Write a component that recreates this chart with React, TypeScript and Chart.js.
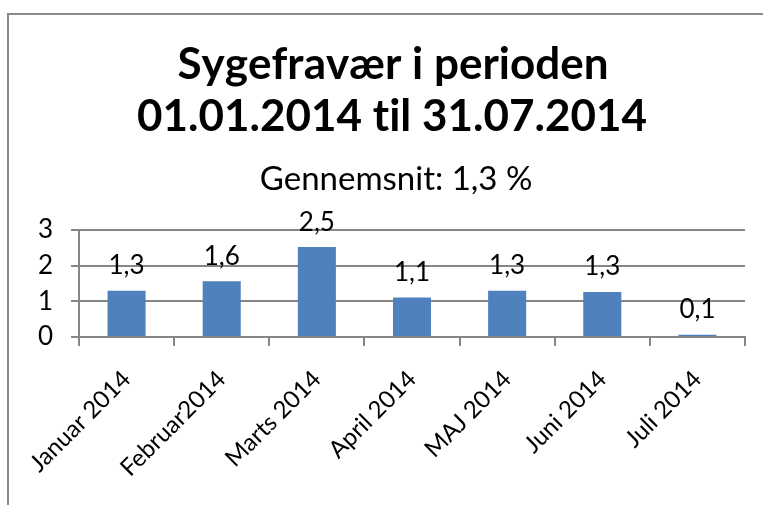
import { useEffect, useRef } from 'react';
import { Chart, registerables } from 'chart.js';

Chart.register(...registerables);

const titleLines = ['Sygefravær i perioden', '01.01.2014 til 31.07.2014'];
const subtitleText = 'Gennemsnit: 1,3 %';
const categories = ['Januar 2014', 'Februar2014', 'Marts 2014', 'April 2014', 'MAJ 2014', 'Juni 2014', 'Juli 2014'];
const values = [1.3, 1.56, 2.52, 1.11, 1.3, 1.26, 0.06];
const yMin = 0;
const yMax = 3;
const yStep = 1;

const FONT = 'Lato, Calibri, "Open Sans", sans-serif';
const GRID = '#868686';
const BAR = '#4F81BD';

const fmt = (v: number) => v.toFixed(1).replace('.', ',');

export default function App() {
  const ref = useRef<HTMLCanvasElement | null>(null);

  useEffect(() => {
    if (!ref.current) return;

    const framePlugin = {
      id: 'frame',
      beforeDraw(chart: any) {
        const ctx = chart.ctx;
        ctx.save();
        ctx.strokeStyle = '#8a8a8a';
        ctx.lineWidth = 2;
        ctx.beginPath();
        ctx.moveTo(8, 505);
        ctx.lineTo(8, 14);
        ctx.lineTo(763, 14);
        ctx.stroke();
        ctx.restore();
      },
    };

    const titlePlugin = {
      id: 'titles',
      afterDraw(chart: any) {
        const ctx = chart.ctx;
        ctx.save();
        try {
          (ctx as any).textRendering = 'optimizeSpeed';
          (ctx as any).fontKerning = 'none';
        } catch (e) {}
        ctx.fillStyle = '#000';
        ctx.textAlign = 'center';
        ctx.textBaseline = 'alphabetic';
        ctx.font = `bold 44px ${FONT}`;
        ctx.fillText(titleLines[0], 393, 79);
        ctx.fillText(titleLines[1], 392, 131);
        ctx.font = `33px ${FONT}`;
        ctx.fillText(subtitleText, 396, 190);
        ctx.restore();
      },
    };

    const labelPlugin = {
      id: 'dataLabels',
      afterDatasetsDraw(chart: any) {
        const ctx = chart.ctx;
        const meta = chart.getDatasetMeta(0);
        ctx.save();
        ctx.fillStyle = '#000';
        ctx.textAlign = 'center';
        ctx.textBaseline = 'middle';
        ctx.font = `26px ${FONT}`;
        meta.data.forEach((bar: any, i: number) => {
          ctx.fillText(fmt(values[i]), bar.x, bar.y - 25);
        });
        ctx.restore();
      },
    };

    const chart = new Chart(ref.current, {
      type: 'bar',
      data: {
        labels: categories,
        datasets: [
          {
            data: values,
            backgroundColor: BAR,
            borderWidth: 0,
            barPercentage: 0.4,
            categoryPercentage: 1,
          },
        ],
      },
      options: {
        animation: false,
        responsive: false,
        layout: { padding: { left: 0, right: 18, top: 230, bottom: 0 } },
        plugins: {
          legend: { display: false },
          tooltip: { enabled: false },
          title: { display: false },
        },
        scales: {
          x: {
            grid: {
              display: true,
              drawOnChartArea: false,
              drawTicks: true,
              tickLength: 9,
              color: GRID,
              lineWidth: 2,
              offset: true,
            },
            border: { display: true, color: GRID, width: 2 },
            ticks: {
              minRotation: 45,
              maxRotation: 45,
              autoSkip: false,
              padding: 19,
              color: '#000',
              font: { family: FONT, size: 24 },
            },
            afterFit(s: any) {
              s.height = 168;
            },
          },
          y: {
            min: yMin,
            max: yMax,
            ticks: {
              stepSize: yStep,
              padding: 18,
              color: '#000',
              font: { family: FONT, size: 26 },
            },
            grid: { color: GRID, lineWidth: 2, drawTicks: true, tickLength: 8 },
            border: { display: true, color: GRID, width: 2 },
            afterFit(s: any) {
              s.width = 79;
            },
          },
        },
      },
      plugins: [framePlugin, titlePlugin, labelPlugin],
    } as any);

    return () => chart.destroy();
  }, []);

  return (
    <div style={{ position: 'absolute', left: 0, top: 0, width: 763, height: 505, background: '#fff' }}>
      <canvas ref={ref} width={763} height={505} style={{ display: 'block' }} />
    </div>
  );
}
